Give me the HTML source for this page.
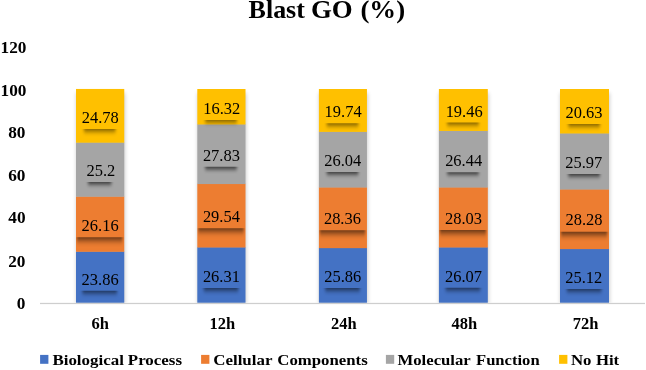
<!DOCTYPE html>
<html><head><meta charset="utf-8"><style>
html,body{margin:0;padding:0;background:#fff;}
svg{display:block}
text{font-family:"Liberation Serif",serif;fill:#000}
.b{font-weight:bold}
</style></head><body>
<svg width="646" height="370" viewBox="0 0 646 370">
<defs>
<filter id="sh" x="-30%" y="-10%" width="160%" height="130%"><feGaussianBlur stdDeviation="1.9"/></filter>
<filter id="ls" x="-30%" y="-300%" width="160%" height="700%"><feGaussianBlur stdDeviation="1.8 2.4"/></filter>
<filter id="lg" x="-30%" y="-300%" width="160%" height="700%"><feGaussianBlur stdDeviation="1.7 2.0"/></filter>
<filter id="lo" x="-30%" y="-300%" width="160%" height="700%"><feGaussianBlur stdDeviation="0.9 3.2"/></filter>
</defs>
<rect width="646" height="370" fill="#fff"/>

<text class="b" transform="translate(248.60,17.80) scale(1.007,1)" font-size="25.8" text-anchor="start">Blast</text>
<text class="b" transform="translate(310.90,17.80) scale(1.04,1)" font-size="25.8" text-anchor="start">GO</text>
<text class="b" transform="translate(360.40,17.80) scale(1.04,1)" font-size="25.8" text-anchor="start">(%)</text>
<text class="b" transform="translate(25.40,309.15) scale(1.04,1)" font-size="16.6" text-anchor="end">0</text>
<text class="b" transform="translate(25.50,267.05) scale(1.04,1)" font-size="16.6" text-anchor="end">20</text>
<text class="b" transform="translate(25.60,222.75) scale(1.04,1)" font-size="16.6" text-anchor="end">40</text>
<text class="b" transform="translate(25.50,181.05) scale(1.04,1)" font-size="16.6" text-anchor="end">60</text>
<text class="b" transform="translate(25.50,138.35) scale(1.04,1)" font-size="16.6" text-anchor="end">80</text>
<text class="b" transform="translate(26.40,95.65) scale(1.04,1)" font-size="16.6" text-anchor="end">100</text>
<text class="b" transform="translate(26.40,52.95) scale(1.04,1)" font-size="16.6" text-anchor="end">120</text>
<rect x="40" y="302.85" width="605" height="1.25" fill="#cecece"/>
<svg x="66.0" y="80" width="68.25" height="222.4" overflow="hidden"><rect x="10.5" y="12.9" width="48.25" height="223.5" fill="#000" opacity="0.22" filter="url(#sh)"/></svg>
<rect x="76.0" y="251.50" width="48.25" height="51.20" fill="#4472C4"/>
<rect x="76.0" y="196.40" width="48.25" height="55.40" fill="#ED7D31"/>
<rect x="76.0" y="142.40" width="48.25" height="54.30" fill="#A5A5A5"/>
<rect x="76.0" y="88.95" width="48.25" height="53.75" fill="#FFC000"/>
<svg x="76.125" y="290.75" width="48" height="12" overflow="hidden"><rect x="6.33" y="-7" width="34.54" height="9.5" fill="#000" opacity="0.56" filter="url(#ls)"/></svg>
<text transform="translate(100.12,285.05) scale(0.98,1)" font-size="16.8" text-anchor="middle">23.86</text>
<svg x="76.0" y="237.15" width="48.25" height="14" overflow="hidden"><rect x="1" y="-10" width="45.45" height="13" fill="#000" opacity="0.62" filter="url(#lo)"/></svg>
<text transform="translate(100.12,231.45) scale(0.98,1)" font-size="16.8" text-anchor="middle">26.16</text>
<svg x="76.125" y="182.00" width="48" height="12" overflow="hidden"><rect x="11.94" y="-7" width="23.31" height="9.5" fill="#000" opacity="0.64" filter="url(#lg)"/></svg>
<text transform="translate(100.83,175.80) scale(0.98,1)" font-size="16.8" text-anchor="middle">25.2</text>
<svg x="76.125" y="128.98" width="48" height="12" overflow="hidden"><rect x="7.83" y="-7" width="31.54" height="9.5" fill="#000" opacity="0.5" filter="url(#ls)"/></svg>
<text transform="translate(100.22,122.98) scale(0.98,1)" font-size="16.8" text-anchor="middle">24.78</text>
<text class="b" transform="translate(100.33,328.80) scale(1.0,1)" font-size="16.5" text-anchor="middle">6h</text>
<svg x="187.3" y="80" width="68.2" height="222.4" overflow="hidden"><rect x="10.5" y="12.9" width="48.2" height="223.5" fill="#000" opacity="0.22" filter="url(#sh)"/></svg>
<rect x="197.3" y="247.20" width="48.2" height="55.50" fill="#4472C4"/>
<rect x="197.3" y="183.75" width="48.2" height="63.75" fill="#ED7D31"/>
<rect x="197.3" y="124.20" width="48.2" height="59.85" fill="#A5A5A5"/>
<rect x="197.3" y="89.00" width="48.2" height="35.50" fill="#FFC000"/>
<svg x="197.4" y="288.10" width="48" height="12" overflow="hidden"><rect x="6.33" y="-7" width="34.54" height="9.5" fill="#000" opacity="0.56" filter="url(#ls)"/></svg>
<text transform="translate(221.40,282.00) scale(0.98,1)" font-size="16.8" text-anchor="middle">26.31</text>
<svg x="197.3" y="228.17" width="48.2" height="14" overflow="hidden"><rect x="1" y="-10" width="45.400000000000006" height="13" fill="#000" opacity="0.62" filter="url(#lo)"/></svg>
<text transform="translate(221.40,221.88) scale(0.98,1)" font-size="16.8" text-anchor="middle">29.54</text>
<svg x="197.4" y="166.87" width="48" height="12" overflow="hidden"><rect x="7.83" y="-7" width="31.54" height="9.5" fill="#000" opacity="0.64" filter="url(#lg)"/></svg>
<text transform="translate(221.40,161.32) scale(0.98,1)" font-size="16.8" text-anchor="middle">27.83</text>
<svg x="197.4" y="119.90" width="48" height="12" overflow="hidden"><rect x="7.83" y="-7" width="31.54" height="9.5" fill="#000" opacity="0.5" filter="url(#ls)"/></svg>
<text transform="translate(221.70,113.60) scale(0.98,1)" font-size="16.8" text-anchor="middle">16.32</text>
<text class="b" transform="translate(222.30,328.80) scale(1.0,1)" font-size="16.5" text-anchor="middle">12h</text>
<svg x="308.9" y="80" width="68.05" height="222.4" overflow="hidden"><rect x="10.5" y="12.9" width="48.05" height="223.5" fill="#000" opacity="0.22" filter="url(#sh)"/></svg>
<rect x="318.9" y="247.85" width="48.05" height="54.85" fill="#4472C4"/>
<rect x="318.9" y="187.20" width="48.05" height="60.95" fill="#ED7D31"/>
<rect x="318.9" y="131.60" width="48.05" height="55.90" fill="#A5A5A5"/>
<rect x="318.9" y="89.00" width="48.05" height="42.90" fill="#FFC000"/>
<svg x="318.92499999999995" y="288.12" width="48" height="12" overflow="hidden"><rect x="6.33" y="-7" width="34.54" height="9.5" fill="#000" opacity="0.56" filter="url(#ls)"/></svg>
<text transform="translate(342.72,282.02) scale(0.98,1)" font-size="16.8" text-anchor="middle">25.86</text>
<svg x="318.9" y="230.32" width="48.05" height="14" overflow="hidden"><rect x="1" y="-10" width="45.25" height="13" fill="#000" opacity="0.62" filter="url(#lo)"/></svg>
<text transform="translate(342.42,224.12) scale(0.98,1)" font-size="16.8" text-anchor="middle">28.36</text>
<svg x="318.92499999999995" y="172.00" width="48" height="12" overflow="hidden"><rect x="7.83" y="-7" width="31.54" height="9.5" fill="#000" opacity="0.64" filter="url(#lg)"/></svg>
<text transform="translate(342.72,165.90) scale(0.98,1)" font-size="16.8" text-anchor="middle">26.04</text>
<svg x="318.92499999999995" y="123.30" width="48" height="12" overflow="hidden"><rect x="7.83" y="-7" width="31.54" height="9.5" fill="#000" opacity="0.5" filter="url(#ls)"/></svg>
<text transform="translate(343.12,116.95) scale(0.98,1)" font-size="16.8" text-anchor="middle">19.74</text>
<text class="b" transform="translate(343.82,328.80) scale(1.0,1)" font-size="16.5" text-anchor="middle">24h</text>
<svg x="428.9" y="80" width="68.9" height="222.4" overflow="hidden"><rect x="10.5" y="12.9" width="48.9" height="223.5" fill="#000" opacity="0.22" filter="url(#sh)"/></svg>
<rect x="438.9" y="247.20" width="48.9" height="55.50" fill="#4472C4"/>
<rect x="438.9" y="187.20" width="48.9" height="60.30" fill="#ED7D31"/>
<rect x="438.9" y="130.65" width="48.9" height="56.85" fill="#A5A5A5"/>
<rect x="438.9" y="89.00" width="48.9" height="41.95" fill="#FFC000"/>
<svg x="439.34999999999997" y="287.80" width="48" height="12" overflow="hidden"><rect x="6.33" y="-7" width="34.54" height="9.5" fill="#000" opacity="0.56" filter="url(#ls)"/></svg>
<text transform="translate(463.55,282.10) scale(0.98,1)" font-size="16.8" text-anchor="middle">26.07</text>
<svg x="438.9" y="230.00" width="48.9" height="14" overflow="hidden"><rect x="1" y="-10" width="46.1" height="13" fill="#000" opacity="0.62" filter="url(#lo)"/></svg>
<text transform="translate(463.55,223.90) scale(0.98,1)" font-size="16.8" text-anchor="middle">28.03</text>
<svg x="439.34999999999997" y="172.22" width="48" height="12" overflow="hidden"><rect x="7.83" y="-7" width="31.54" height="9.5" fill="#000" opacity="0.64" filter="url(#lg)"/></svg>
<text transform="translate(463.65,166.43) scale(0.98,1)" font-size="16.8" text-anchor="middle">26.44</text>
<svg x="439.34999999999997" y="122.53" width="48" height="12" overflow="hidden"><rect x="7.83" y="-7" width="31.54" height="9.5" fill="#000" opacity="0.5" filter="url(#ls)"/></svg>
<text transform="translate(464.15,117.12) scale(0.98,1)" font-size="16.8" text-anchor="middle">19.46</text>
<text class="b" transform="translate(464.25,328.80) scale(1.0,1)" font-size="16.5" text-anchor="middle">48h</text>
<svg x="550.0" y="80" width="69.0" height="222.4" overflow="hidden"><rect x="10.5" y="12.9" width="49.0" height="223.5" fill="#000" opacity="0.22" filter="url(#sh)"/></svg>
<rect x="560.0" y="248.80" width="49.0" height="53.90" fill="#4472C4"/>
<rect x="560.0" y="189.20" width="49.0" height="59.90" fill="#ED7D31"/>
<rect x="560.0" y="133.20" width="49.0" height="56.30" fill="#A5A5A5"/>
<rect x="560.0" y="89.00" width="49.0" height="44.50" fill="#FFC000"/>
<svg x="560.5" y="288.90" width="48" height="12" overflow="hidden"><rect x="6.33" y="-7" width="34.54" height="9.5" fill="#000" opacity="0.56" filter="url(#ls)"/></svg>
<text transform="translate(583.80,282.50) scale(0.98,1)" font-size="16.8" text-anchor="middle">25.12</text>
<svg x="560.0" y="231.80" width="49.0" height="14" overflow="hidden"><rect x="1" y="-10" width="46.2" height="13" fill="#000" opacity="0.62" filter="url(#lo)"/></svg>
<text transform="translate(584.00,225.30) scale(0.98,1)" font-size="16.8" text-anchor="middle">28.28</text>
<svg x="560.5" y="174.10" width="48" height="12" overflow="hidden"><rect x="7.83" y="-7" width="31.54" height="9.5" fill="#000" opacity="0.64" filter="url(#lg)"/></svg>
<text transform="translate(583.80,167.50) scale(0.98,1)" font-size="16.8" text-anchor="middle">25.97</text>
<svg x="560.5" y="124.00" width="48" height="12" overflow="hidden"><rect x="7.83" y="-7" width="31.54" height="9.5" fill="#000" opacity="0.5" filter="url(#ls)"/></svg>
<text transform="translate(584.00,117.60) scale(0.98,1)" font-size="16.8" text-anchor="middle">20.63</text>
<text class="b" transform="translate(585.70,328.80) scale(1.0,1)" font-size="16.5" text-anchor="middle">72h</text>
<rect x="40.1" y="354.9" width="8.3" height="8.9" fill="#4472C4"/>
<text class="b" transform="translate(52.4,364.7) scale(1.1,1)" font-size="15.4">Biological</text>
<text class="b" transform="translate(127.8,364.7) scale(1.1,1)" font-size="15.4">Process</text>
<rect x="201.1" y="354.9" width="8.3" height="8.9" fill="#ED7D31"/>
<text class="b" transform="translate(213.2,364.7) scale(1.1,1)" font-size="15.4">Cellular</text>
<text class="b" transform="translate(277.3,364.7) scale(1.09,1)" font-size="15.4">Components</text>
<rect x="385.9" y="354.9" width="8.3" height="8.9" fill="#A5A5A5"/>
<text class="b" transform="translate(397.5,364.7) scale(1.085,1)" font-size="15.4">Molecular</text>
<text class="b" transform="translate(476.0,364.7) scale(1.078,1)" font-size="15.4">Function</text>
<rect x="559.1" y="354.9" width="8.3" height="8.9" fill="#FFC000"/>
<text class="b" transform="translate(570.9,364.7) scale(1.09,1)" font-size="15.4">No</text>
<text class="b" transform="translate(595.9,364.7) scale(1.09,1)" font-size="15.4">Hit</text>
</svg></body></html>
